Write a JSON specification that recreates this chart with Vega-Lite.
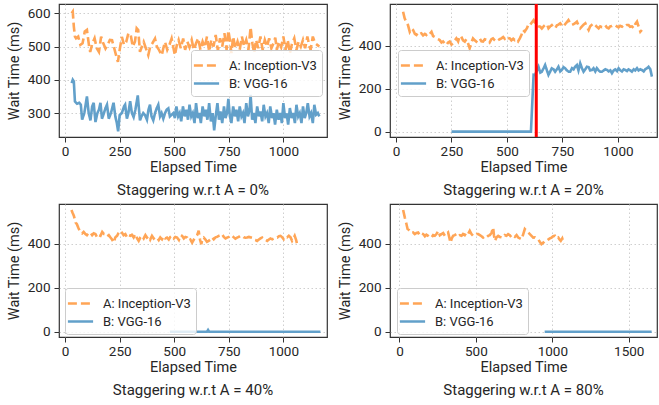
{
  "$schema": "https://vega.github.io/schema/vega-lite/v6.json",
  "autosize": {"type": "pad"},
  "padding": {"left": 5, "top": 1, "right": 4, "bottom": 0},
  "background": "white",
  "datasets": {
    "markers": [{"panel": "p2", "t": 632}],
    "series": [
      {"panel":"p1","s":"A: Inception-V3","t":30,"w":600},{"panel":"p1","s":"A: Inception-V3","t":35,"w":605},{"panel":"p1","s":"A: Inception-V3","t":40,"w":560},{"panel":"p1","s":"A: Inception-V3","t":45,"w":530},{"panel":"p1","s":"A: Inception-V3","t":50,"w":525},{"panel":"p1","s":"A: Inception-V3","t":60,"w":530},{"panel":"p1","s":"A: Inception-V3","t":70,"w":505},{"panel":"p1","s":"A: Inception-V3","t":80,"w":510},{"panel":"p1","s":"A: Inception-V3","t":90,"w":545},{"panel":"p1","s":"A: Inception-V3","t":100,"w":550},{"panel":"p1","s":"A: Inception-V3","t":110,"w":500},{"panel":"p1","s":"A: Inception-V3","t":115,"w":484},{"panel":"p1","s":"A: Inception-V3","t":125,"w":510},{"panel":"p1","s":"A: Inception-V3","t":135,"w":525},{"panel":"p1","s":"A: Inception-V3","t":145,"w":495},{"panel":"p1","s":"A: Inception-V3","t":155,"w":484},{"panel":"p1","s":"A: Inception-V3","t":165,"w":530},{"panel":"p1","s":"A: Inception-V3","t":175,"w":510},{"panel":"p1","s":"A: Inception-V3","t":185,"w":494},{"panel":"p1","s":"A: Inception-V3","t":195,"w":505},{"panel":"p1","s":"A: Inception-V3","t":205,"w":520},{"panel":"p1","s":"A: Inception-V3","t":215,"w":519},{"panel":"p1","s":"A: Inception-V3","t":225,"w":495},{"panel":"p1","s":"A: Inception-V3","t":235,"w":470},{"panel":"p1","s":"A: Inception-V3","t":242,"w":454},{"panel":"p1","s":"A: Inception-V3","t":250,"w":490},{"panel":"p1","s":"A: Inception-V3","t":260,"w":529},{"panel":"p1","s":"A: Inception-V3","t":270,"w":505},{"panel":"p1","s":"A: Inception-V3","t":280,"w":514},{"panel":"p1","s":"A: Inception-V3","t":290,"w":540},{"panel":"p1","s":"A: Inception-V3","t":300,"w":537},{"panel":"p1","s":"A: Inception-V3","t":310,"w":500},{"panel":"p1","s":"A: Inception-V3","t":320,"w":515},{"panel":"p1","s":"A: Inception-V3","t":328,"w":555},{"panel":"p1","s":"A: Inception-V3","t":335,"w":550},{"panel":"p1","s":"A: Inception-V3","t":343,"w":484},{"panel":"p1","s":"A: Inception-V3","t":352,"w":500},{"panel":"p1","s":"A: Inception-V3","t":360,"w":514},{"panel":"p1","s":"A: Inception-V3","t":370,"w":495},{"panel":"p1","s":"A: Inception-V3","t":381,"w":474},{"panel":"p1","s":"A: Inception-V3","t":390,"w":500},{"panel":"p1","s":"A: Inception-V3","t":400,"w":510},{"panel":"p1","s":"A: Inception-V3","t":412,"w":524},{"panel":"p1","s":"A: Inception-V3","t":420,"w":500},{"panel":"p1","s":"A: Inception-V3","t":430,"w":490},{"panel":"p1","s":"A: Inception-V3","t":443,"w":474},{"panel":"p1","s":"A: Inception-V3","t":450,"w":495},{"panel":"p1","s":"A: Inception-V3","t":458,"w":514},{"panel":"p1","s":"A: Inception-V3","t":468,"w":490},{"panel":"p1","s":"A: Inception-V3","t":478,"w":505},{"panel":"p1","s":"A: Inception-V3","t":488,"w":524},{"panel":"p1","s":"A: Inception-V3","t":495,"w":500},{"panel":"p1","s":"A: Inception-V3","t":503,"w":474},{"panel":"p1","s":"A: Inception-V3","t":512,"w":505},{"panel":"p1","s":"A: Inception-V3","t":520,"w":520},{"panel":"p1","s":"A: Inception-V3","t":530,"w":495},{"panel":"p1","s":"A: Inception-V3","t":541,"w":524},{"panel":"p1","s":"A: Inception-V3","t":550,"w":490},{"panel":"p1","s":"A: Inception-V3","t":560,"w":515},{"panel":"p1","s":"A: Inception-V3","t":570,"w":498},{"panel":"p1","s":"A: Inception-V3","t":580,"w":520},{"panel":"p1","s":"A: Inception-V3","t":590,"w":490},{"panel":"p1","s":"A: Inception-V3","t":600,"w":510},{"panel":"p1","s":"A: Inception-V3","t":610,"w":525},{"panel":"p1","s":"A: Inception-V3","t":620,"w":490},{"panel":"p1","s":"A: Inception-V3","t":630,"w":515},{"panel":"p1","s":"A: Inception-V3","t":640,"w":498},{"panel":"p1","s":"A: Inception-V3","t":650,"w":530},{"panel":"p1","s":"A: Inception-V3","t":660,"w":485},{"panel":"p1","s":"A: Inception-V3","t":670,"w":520},{"panel":"p1","s":"A: Inception-V3","t":680,"w":500},{"panel":"p1","s":"A: Inception-V3","t":690,"w":535},{"panel":"p1","s":"A: Inception-V3","t":700,"w":488},{"panel":"p1","s":"A: Inception-V3","t":710,"w":525},{"panel":"p1","s":"A: Inception-V3","t":720,"w":500},{"panel":"p1","s":"A: Inception-V3","t":730,"w":540},{"panel":"p1","s":"A: Inception-V3","t":740,"w":490},{"panel":"p1","s":"A: Inception-V3","t":748,"w":548},{"panel":"p1","s":"A: Inception-V3","t":755,"w":520},{"panel":"p1","s":"A: Inception-V3","t":762,"w":480},{"panel":"p1","s":"A: Inception-V3","t":770,"w":530},{"panel":"p1","s":"A: Inception-V3","t":780,"w":495},{"panel":"p1","s":"A: Inception-V3","t":790,"w":515},{"panel":"p1","s":"A: Inception-V3","t":800,"w":490},{"panel":"p1","s":"A: Inception-V3","t":810,"w":530},{"panel":"p1","s":"A: Inception-V3","t":820,"w":500},{"panel":"p1","s":"A: Inception-V3","t":830,"w":520},{"panel":"p1","s":"A: Inception-V3","t":840,"w":490},{"panel":"p1","s":"A: Inception-V3","t":850,"w":558},{"panel":"p1","s":"A: Inception-V3","t":858,"w":510},{"panel":"p1","s":"A: Inception-V3","t":866,"w":480},{"panel":"p1","s":"A: Inception-V3","t":875,"w":520},{"panel":"p1","s":"A: Inception-V3","t":885,"w":495},{"panel":"p1","s":"A: Inception-V3","t":895,"w":530},{"panel":"p1","s":"A: Inception-V3","t":905,"w":490},{"panel":"p1","s":"A: Inception-V3","t":915,"w":520},{"panel":"p1","s":"A: Inception-V3","t":925,"w":500},{"panel":"p1","s":"A: Inception-V3","t":935,"w":525},{"panel":"p1","s":"A: Inception-V3","t":945,"w":495},{"panel":"p1","s":"A: Inception-V3","t":955,"w":510},{"panel":"p1","s":"A: Inception-V3","t":963,"w":527},{"panel":"p1","s":"A: Inception-V3","t":970,"w":490},{"panel":"p1","s":"A: Inception-V3","t":980,"w":515},{"panel":"p1","s":"A: Inception-V3","t":990,"w":498},{"panel":"p1","s":"A: Inception-V3","t":1000,"w":530},{"panel":"p1","s":"A: Inception-V3","t":1010,"w":490},{"panel":"p1","s":"A: Inception-V3","t":1020,"w":520},{"panel":"p1","s":"A: Inception-V3","t":1030,"w":480},{"panel":"p1","s":"A: Inception-V3","t":1040,"w":510},{"panel":"p1","s":"A: Inception-V3","t":1050,"w":525},{"panel":"p1","s":"A: Inception-V3","t":1060,"w":490},{"panel":"p1","s":"A: Inception-V3","t":1070,"w":515},{"panel":"p1","s":"A: Inception-V3","t":1080,"w":500},{"panel":"p1","s":"A: Inception-V3","t":1090,"w":520},{"panel":"p1","s":"A: Inception-V3","t":1100,"w":495},{"panel":"p1","s":"A: Inception-V3","t":1110,"w":530},{"panel":"p1","s":"A: Inception-V3","t":1118,"w":505},{"panel":"p1","s":"A: Inception-V3","t":1125,"w":490},{"panel":"p1","s":"A: Inception-V3","t":1135,"w":530},{"panel":"p1","s":"A: Inception-V3","t":1145,"w":510},{"panel":"p1","s":"A: Inception-V3","t":1155,"w":505},{"panel":"p1","s":"A: Inception-V3","t":1165,"w":500},
      {"panel":"p1","s":"B: VGG-16","t":30,"w":390},{"panel":"p1","s":"B: VGG-16","t":35,"w":400},{"panel":"p1","s":"B: VGG-16","t":40,"w":395},{"panel":"p1","s":"B: VGG-16","t":45,"w":335},{"panel":"p1","s":"B: VGG-16","t":55,"w":328},{"panel":"p1","s":"B: VGG-16","t":65,"w":331},{"panel":"p1","s":"B: VGG-16","t":72,"w":325},{"panel":"p1","s":"B: VGG-16","t":78,"w":280},{"panel":"p1","s":"B: VGG-16","t":88,"w":300},{"panel":"p1","s":"B: VGG-16","t":100,"w":350},{"panel":"p1","s":"B: VGG-16","t":108,"w":300},{"panel":"p1","s":"B: VGG-16","t":116,"w":278},{"panel":"p1","s":"B: VGG-16","t":124,"w":320},{"panel":"p1","s":"B: VGG-16","t":131,"w":331},{"panel":"p1","s":"B: VGG-16","t":139,"w":273},{"panel":"p1","s":"B: VGG-16","t":148,"w":300},{"panel":"p1","s":"B: VGG-16","t":155,"w":310},{"panel":"p1","s":"B: VGG-16","t":162,"w":331},{"panel":"p1","s":"B: VGG-16","t":169,"w":283},{"panel":"p1","s":"B: VGG-16","t":178,"w":300},{"panel":"p1","s":"B: VGG-16","t":185,"w":315},{"panel":"p1","s":"B: VGG-16","t":192,"w":325},{"panel":"p1","s":"B: VGG-16","t":200,"w":283},{"panel":"p1","s":"B: VGG-16","t":210,"w":300},{"panel":"p1","s":"B: VGG-16","t":222,"w":331},{"panel":"p1","s":"B: VGG-16","t":230,"w":290},{"panel":"p1","s":"B: VGG-16","t":237,"w":270},{"panel":"p1","s":"B: VGG-16","t":243,"w":245},{"panel":"p1","s":"B: VGG-16","t":250,"w":294},{"panel":"p1","s":"B: VGG-16","t":260,"w":300},{"panel":"p1","s":"B: VGG-16","t":270,"w":320},{"panel":"p1","s":"B: VGG-16","t":275,"w":325},{"panel":"p1","s":"B: VGG-16","t":283,"w":283},{"panel":"p1","s":"B: VGG-16","t":290,"w":300},{"panel":"p1","s":"B: VGG-16","t":298,"w":336},{"panel":"p1","s":"B: VGG-16","t":306,"w":300},{"panel":"p1","s":"B: VGG-16","t":314,"w":288},{"panel":"p1","s":"B: VGG-16","t":322,"w":310},{"panel":"p1","s":"B: VGG-16","t":333,"w":353},{"panel":"p1","s":"B: VGG-16","t":343,"w":278},{"panel":"p1","s":"B: VGG-16","t":350,"w":290},{"panel":"p1","s":"B: VGG-16","t":358,"w":300},{"panel":"p1","s":"B: VGG-16","t":366,"w":294},{"panel":"p1","s":"B: VGG-16","t":375,"w":280},{"panel":"p1","s":"B: VGG-16","t":382,"w":310},{"panel":"p1","s":"B: VGG-16","t":389,"w":325},{"panel":"p1","s":"B: VGG-16","t":396,"w":290},{"panel":"p1","s":"B: VGG-16","t":404,"w":278},{"panel":"p1","s":"B: VGG-16","t":412,"w":300},{"panel":"p1","s":"B: VGG-16","t":420,"w":315},{"panel":"p1","s":"B: VGG-16","t":427,"w":325},{"panel":"p1","s":"B: VGG-16","t":435,"w":290},{"panel":"p1","s":"B: VGG-16","t":442,"w":300},{"panel":"p1","s":"B: VGG-16","t":450,"w":283},{"panel":"p1","s":"B: VGG-16","t":458,"w":300},{"panel":"p1","s":"B: VGG-16","t":465,"w":310},{"panel":"p1","s":"B: VGG-16","t":473,"w":314},{"panel":"p1","s":"B: VGG-16","t":480,"w":290},{"panel":"p1","s":"B: VGG-16","t":488,"w":295},{"panel":"p1","s":"B: VGG-16","t":496,"w":300},{"panel":"p1","s":"B: VGG-16","t":503,"w":285},{"panel":"p1","s":"B: VGG-16","t":510,"w":320},{"panel":"p1","s":"B: VGG-16","t":518,"w":290},{"panel":"p1","s":"B: VGG-16","t":525,"w":300},{"panel":"p1","s":"B: VGG-16","t":532,"w":275},{"panel":"p1","s":"B: VGG-16","t":540,"w":320},{"panel":"p1","s":"B: VGG-16","t":548,"w":290},{"panel":"p1","s":"B: VGG-16","t":556,"w":310},{"panel":"p1","s":"B: VGG-16","t":563,"w":280},{"panel":"p1","s":"B: VGG-16","t":570,"w":325},{"panel":"p1","s":"B: VGG-16","t":578,"w":290},{"panel":"p1","s":"B: VGG-16","t":585,"w":300},{"panel":"p1","s":"B: VGG-16","t":593,"w":270},{"panel":"p1","s":"B: VGG-16","t":600,"w":330},{"panel":"p1","s":"B: VGG-16","t":608,"w":285},{"panel":"p1","s":"B: VGG-16","t":615,"w":300},{"panel":"p1","s":"B: VGG-16","t":622,"w":270},{"panel":"p1","s":"B: VGG-16","t":630,"w":320},{"panel":"p1","s":"B: VGG-16","t":638,"w":290},{"panel":"p1","s":"B: VGG-16","t":645,"w":310},{"panel":"p1","s":"B: VGG-16","t":652,"w":280},{"panel":"p1","s":"B: VGG-16","t":660,"w":330},{"panel":"p1","s":"B: VGG-16","t":668,"w":275},{"panel":"p1","s":"B: VGG-16","t":676,"w":300},{"panel":"p1","s":"B: VGG-16","t":683,"w":248},{"panel":"p1","s":"B: VGG-16","t":690,"w":290},{"panel":"p1","s":"B: VGG-16","t":698,"w":330},{"panel":"p1","s":"B: VGG-16","t":705,"w":280},{"panel":"p1","s":"B: VGG-16","t":712,"w":305},{"panel":"p1","s":"B: VGG-16","t":720,"w":270},{"panel":"p1","s":"B: VGG-16","t":728,"w":320},{"panel":"p1","s":"B: VGG-16","t":735,"w":285},{"panel":"p1","s":"B: VGG-16","t":742,"w":300},{"panel":"p1","s":"B: VGG-16","t":748,"w":343},{"panel":"p1","s":"B: VGG-16","t":755,"w":290},{"panel":"p1","s":"B: VGG-16","t":762,"w":270},{"panel":"p1","s":"B: VGG-16","t":770,"w":320},{"panel":"p1","s":"B: VGG-16","t":778,"w":290},{"panel":"p1","s":"B: VGG-16","t":785,"w":310},{"panel":"p1","s":"B: VGG-16","t":793,"w":275},{"panel":"p1","s":"B: VGG-16","t":800,"w":320},{"panel":"p1","s":"B: VGG-16","t":808,"w":290},{"panel":"p1","s":"B: VGG-16","t":815,"w":300},{"panel":"p1","s":"B: VGG-16","t":822,"w":270},{"panel":"p1","s":"B: VGG-16","t":830,"w":330},{"panel":"p1","s":"B: VGG-16","t":838,"w":290},{"panel":"p1","s":"B: VGG-16","t":845,"w":310},{"panel":"p1","s":"B: VGG-16","t":850,"w":355},{"panel":"p1","s":"B: VGG-16","t":857,"w":280},{"panel":"p1","s":"B: VGG-16","t":864,"w":300},{"panel":"p1","s":"B: VGG-16","t":872,"w":270},{"panel":"p1","s":"B: VGG-16","t":880,"w":320},{"panel":"p1","s":"B: VGG-16","t":888,"w":290},{"panel":"p1","s":"B: VGG-16","t":895,"w":305},{"panel":"p1","s":"B: VGG-16","t":903,"w":275},{"panel":"p1","s":"B: VGG-16","t":910,"w":325},{"panel":"p1","s":"B: VGG-16","t":918,"w":290},{"panel":"p1","s":"B: VGG-16","t":925,"w":300},{"panel":"p1","s":"B: VGG-16","t":933,"w":270},{"panel":"p1","s":"B: VGG-16","t":940,"w":320},{"panel":"p1","s":"B: VGG-16","t":948,"w":285},{"panel":"p1","s":"B: VGG-16","t":955,"w":300},{"panel":"p1","s":"B: VGG-16","t":962,"w":265},{"panel":"p1","s":"B: VGG-16","t":970,"w":310},{"panel":"p1","s":"B: VGG-16","t":978,"w":280},{"panel":"p1","s":"B: VGG-16","t":986,"w":300},{"panel":"p1","s":"B: VGG-16","t":993,"w":270},{"panel":"p1","s":"B: VGG-16","t":1000,"w":330},{"panel":"p1","s":"B: VGG-16","t":1008,"w":285},{"panel":"p1","s":"B: VGG-16","t":1015,"w":300},{"panel":"p1","s":"B: VGG-16","t":1022,"w":265},{"panel":"p1","s":"B: VGG-16","t":1030,"w":315},{"panel":"p1","s":"B: VGG-16","t":1038,"w":285},{"panel":"p1","s":"B: VGG-16","t":1045,"w":300},{"panel":"p1","s":"B: VGG-16","t":1053,"w":270},{"panel":"p1","s":"B: VGG-16","t":1060,"w":325},{"panel":"p1","s":"B: VGG-16","t":1068,"w":290},{"panel":"p1","s":"B: VGG-16","t":1075,"w":300},{"panel":"p1","s":"B: VGG-16","t":1083,"w":270},{"panel":"p1","s":"B: VGG-16","t":1090,"w":320},{"panel":"p1","s":"B: VGG-16","t":1098,"w":285},{"panel":"p1","s":"B: VGG-16","t":1105,"w":300},{"panel":"p1","s":"B: VGG-16","t":1112,"w":330},{"panel":"p1","s":"B: VGG-16","t":1120,"w":290},{"panel":"p1","s":"B: VGG-16","t":1127,"w":300},{"panel":"p1","s":"B: VGG-16","t":1135,"w":270},{"panel":"p1","s":"B: VGG-16","t":1142,"w":325},{"panel":"p1","s":"B: VGG-16","t":1150,"w":295},{"panel":"p1","s":"B: VGG-16","t":1158,"w":300},{"panel":"p1","s":"B: VGG-16","t":1165,"w":290},
      {"panel":"p2","s":"A: Inception-V3","t":32,"w":558},{"panel":"p2","s":"A: Inception-V3","t":39,"w":527},{"panel":"p2","s":"A: Inception-V3","t":47,"w":510},{"panel":"p2","s":"A: Inception-V3","t":54,"w":496},{"panel":"p2","s":"A: Inception-V3","t":62,"w":465},{"panel":"p2","s":"A: Inception-V3","t":70,"w":480},{"panel":"p2","s":"A: Inception-V3","t":77,"w":473},{"panel":"p2","s":"A: Inception-V3","t":85,"w":455},{"panel":"p2","s":"A: Inception-V3","t":92,"w":450},{"panel":"p2","s":"A: Inception-V3","t":100,"w":462},{"panel":"p2","s":"A: Inception-V3","t":107,"w":455},{"panel":"p2","s":"A: Inception-V3","t":114,"w":458},{"panel":"p2","s":"A: Inception-V3","t":122,"w":448},{"panel":"p2","s":"A: Inception-V3","t":130,"w":455},{"panel":"p2","s":"A: Inception-V3","t":137,"w":450},{"panel":"p2","s":"A: Inception-V3","t":145,"w":460},{"panel":"p2","s":"A: Inception-V3","t":152,"w":455},{"panel":"p2","s":"A: Inception-V3","t":160,"w":465},{"panel":"p2","s":"A: Inception-V3","t":167,"w":445},{"panel":"p2","s":"A: Inception-V3","t":175,"w":440},{"panel":"p2","s":"A: Inception-V3","t":182,"w":434},{"panel":"p2","s":"A: Inception-V3","t":190,"w":430},{"panel":"p2","s":"A: Inception-V3","t":197,"w":426},{"panel":"p2","s":"A: Inception-V3","t":205,"w":415},{"panel":"p2","s":"A: Inception-V3","t":212,"w":420},{"panel":"p2","s":"A: Inception-V3","t":220,"w":410},{"panel":"p2","s":"A: Inception-V3","t":227,"w":403},{"panel":"p2","s":"A: Inception-V3","t":235,"w":415},{"panel":"p2","s":"A: Inception-V3","t":242,"w":419},{"panel":"p2","s":"A: Inception-V3","t":250,"w":405},{"panel":"p2","s":"A: Inception-V3","t":257,"w":411},{"panel":"p2","s":"A: Inception-V3","t":265,"w":425},{"panel":"p2","s":"A: Inception-V3","t":272,"w":434},{"panel":"p2","s":"A: Inception-V3","t":280,"w":420},{"panel":"p2","s":"A: Inception-V3","t":287,"w":445},{"panel":"p2","s":"A: Inception-V3","t":294,"w":442},{"panel":"p2","s":"A: Inception-V3","t":302,"w":425},{"panel":"p2","s":"A: Inception-V3","t":310,"w":419},{"panel":"p2","s":"A: Inception-V3","t":317,"w":430},{"panel":"p2","s":"A: Inception-V3","t":325,"w":410},{"panel":"p2","s":"A: Inception-V3","t":332,"w":388},{"panel":"p2","s":"A: Inception-V3","t":340,"w":415},{"panel":"p2","s":"A: Inception-V3","t":347,"w":434},{"panel":"p2","s":"A: Inception-V3","t":355,"w":425},{"panel":"p2","s":"A: Inception-V3","t":362,"w":419},{"panel":"p2","s":"A: Inception-V3","t":370,"w":428},{"panel":"p2","s":"A: Inception-V3","t":377,"w":434},{"panel":"p2","s":"A: Inception-V3","t":385,"w":420},{"panel":"p2","s":"A: Inception-V3","t":392,"w":419},{"panel":"p2","s":"A: Inception-V3","t":400,"w":430},{"panel":"p2","s":"A: Inception-V3","t":407,"w":428},{"panel":"p2","s":"A: Inception-V3","t":414,"w":426},{"panel":"p2","s":"A: Inception-V3","t":422,"w":415},{"panel":"p2","s":"A: Inception-V3","t":430,"w":430},{"panel":"p2","s":"A: Inception-V3","t":437,"w":434},{"panel":"p2","s":"A: Inception-V3","t":445,"w":425},{"panel":"p2","s":"A: Inception-V3","t":452,"w":419},{"panel":"p2","s":"A: Inception-V3","t":460,"w":425},{"panel":"p2","s":"A: Inception-V3","t":467,"w":430},{"panel":"p2","s":"A: Inception-V3","t":475,"w":434},{"panel":"p2","s":"A: Inception-V3","t":483,"w":440},{"panel":"p2","s":"A: Inception-V3","t":490,"w":432},{"panel":"p2","s":"A: Inception-V3","t":498,"w":442},{"panel":"p2","s":"A: Inception-V3","t":505,"w":436},{"panel":"p2","s":"A: Inception-V3","t":513,"w":434},{"panel":"p2","s":"A: Inception-V3","t":520,"w":425},{"panel":"p2","s":"A: Inception-V3","t":528,"w":432},{"panel":"p2","s":"A: Inception-V3","t":535,"w":426},{"panel":"p2","s":"A: Inception-V3","t":543,"w":430},{"panel":"p2","s":"A: Inception-V3","t":550,"w":420},{"panel":"p2","s":"A: Inception-V3","t":558,"w":434},{"panel":"p2","s":"A: Inception-V3","t":565,"w":450},{"panel":"p2","s":"A: Inception-V3","t":573,"w":473},{"panel":"p2","s":"A: Inception-V3","t":580,"w":465},{"panel":"p2","s":"A: Inception-V3","t":590,"w":481},{"panel":"p2","s":"A: Inception-V3","t":597,"w":500},{"panel":"p2","s":"A: Inception-V3","t":604,"w":496},{"panel":"p2","s":"A: Inception-V3","t":612,"w":508},{"panel":"p2","s":"A: Inception-V3","t":620,"w":519},{"panel":"p2","s":"A: Inception-V3","t":627,"w":505},{"panel":"p2","s":"A: Inception-V3","t":635,"w":496},{"panel":"p2","s":"A: Inception-V3","t":642,"w":490},{"panel":"p2","s":"A: Inception-V3","t":650,"w":488},{"panel":"p2","s":"A: Inception-V3","t":657,"w":480},{"panel":"p2","s":"A: Inception-V3","t":665,"w":490},{"panel":"p2","s":"A: Inception-V3","t":672,"w":496},{"panel":"p2","s":"A: Inception-V3","t":680,"w":500},{"panel":"p2","s":"A: Inception-V3","t":687,"w":481},{"panel":"p2","s":"A: Inception-V3","t":695,"w":490},{"panel":"p2","s":"A: Inception-V3","t":702,"w":496},{"panel":"p2","s":"A: Inception-V3","t":710,"w":485},{"panel":"p2","s":"A: Inception-V3","t":717,"w":481},{"panel":"p2","s":"A: Inception-V3","t":725,"w":495},{"panel":"p2","s":"A: Inception-V3","t":732,"w":498},{"panel":"p2","s":"A: Inception-V3","t":740,"w":504},{"panel":"p2","s":"A: Inception-V3","t":747,"w":495},{"panel":"p2","s":"A: Inception-V3","t":755,"w":488},{"panel":"p2","s":"A: Inception-V3","t":762,"w":500},{"panel":"p2","s":"A: Inception-V3","t":770,"w":510},{"panel":"p2","s":"A: Inception-V3","t":777,"w":519},{"panel":"p2","s":"A: Inception-V3","t":785,"w":505},{"panel":"p2","s":"A: Inception-V3","t":792,"w":496},{"panel":"p2","s":"A: Inception-V3","t":800,"w":500},{"panel":"p2","s":"A: Inception-V3","t":807,"w":505},{"panel":"p2","s":"A: Inception-V3","t":815,"w":512},{"panel":"p2","s":"A: Inception-V3","t":822,"w":495},{"panel":"p2","s":"A: Inception-V3","t":830,"w":481},{"panel":"p2","s":"A: Inception-V3","t":838,"w":490},{"panel":"p2","s":"A: Inception-V3","t":845,"w":498},{"panel":"p2","s":"A: Inception-V3","t":853,"w":504},{"panel":"p2","s":"A: Inception-V3","t":860,"w":488},{"panel":"p2","s":"A: Inception-V3","t":868,"w":473},{"panel":"p2","s":"A: Inception-V3","t":875,"w":490},{"panel":"p2","s":"A: Inception-V3","t":883,"w":498},{"panel":"p2","s":"A: Inception-V3","t":890,"w":504},{"panel":"p2","s":"A: Inception-V3","t":898,"w":495},{"panel":"p2","s":"A: Inception-V3","t":905,"w":488},{"panel":"p2","s":"A: Inception-V3","t":913,"w":481},{"panel":"p2","s":"A: Inception-V3","t":920,"w":490},{"panel":"p2","s":"A: Inception-V3","t":928,"w":486},{"panel":"p2","s":"A: Inception-V3","t":936,"w":488},{"panel":"p2","s":"A: Inception-V3","t":943,"w":495},{"panel":"p2","s":"A: Inception-V3","t":950,"w":485},{"panel":"p2","s":"A: Inception-V3","t":958,"w":481},{"panel":"p2","s":"A: Inception-V3","t":965,"w":490},{"panel":"p2","s":"A: Inception-V3","t":973,"w":492},{"panel":"p2","s":"A: Inception-V3","t":980,"w":496},{"panel":"p2","s":"A: Inception-V3","t":988,"w":496},{"panel":"p2","s":"A: Inception-V3","t":995,"w":490},{"panel":"p2","s":"A: Inception-V3","t":1003,"w":485},{"panel":"p2","s":"A: Inception-V3","t":1010,"w":492},{"panel":"p2","s":"A: Inception-V3","t":1018,"w":488},{"panel":"p2","s":"A: Inception-V3","t":1025,"w":495},{"panel":"p2","s":"A: Inception-V3","t":1033,"w":490},{"panel":"p2","s":"A: Inception-V3","t":1040,"w":496},{"panel":"p2","s":"A: Inception-V3","t":1048,"w":496},{"panel":"p2","s":"A: Inception-V3","t":1055,"w":488},{"panel":"p2","s":"A: Inception-V3","t":1063,"w":490},{"panel":"p2","s":"A: Inception-V3","t":1071,"w":481},{"panel":"p2","s":"A: Inception-V3","t":1078,"w":500},{"panel":"p2","s":"A: Inception-V3","t":1086,"w":512},{"panel":"p2","s":"A: Inception-V3","t":1093,"w":490},{"panel":"p2","s":"A: Inception-V3","t":1101,"w":465},{"panel":"p2","s":"A: Inception-V3","t":1108,"w":473},
      {"panel":"p2","s":"B: VGG-16","t":250,"w":0},{"panel":"p2","s":"B: VGG-16","t":400,"w":0},{"panel":"p2","s":"B: VGG-16","t":500,"w":0},{"panel":"p2","s":"B: VGG-16","t":608,"w":0},{"panel":"p2","s":"B: VGG-16","t":620,"w":265},{"panel":"p2","s":"B: VGG-16","t":627,"w":264},{"panel":"p2","s":"B: VGG-16","t":635,"w":285},{"panel":"p2","s":"B: VGG-16","t":642,"w":302},{"panel":"p2","s":"B: VGG-16","t":650,"w":275},{"panel":"p2","s":"B: VGG-16","t":657,"w":279},{"panel":"p2","s":"B: VGG-16","t":665,"w":295},{"panel":"p2","s":"B: VGG-16","t":672,"w":310},{"panel":"p2","s":"B: VGG-16","t":680,"w":285},{"panel":"p2","s":"B: VGG-16","t":687,"w":264},{"panel":"p2","s":"B: VGG-16","t":695,"w":280},{"panel":"p2","s":"B: VGG-16","t":702,"w":295},{"panel":"p2","s":"B: VGG-16","t":710,"w":290},{"panel":"p2","s":"B: VGG-16","t":717,"w":279},{"panel":"p2","s":"B: VGG-16","t":725,"w":290},{"panel":"p2","s":"B: VGG-16","t":732,"w":302},{"panel":"p2","s":"B: VGG-16","t":740,"w":280},{"panel":"p2","s":"B: VGG-16","t":747,"w":287},{"panel":"p2","s":"B: VGG-16","t":755,"w":300},{"panel":"p2","s":"B: VGG-16","t":762,"w":295},{"panel":"p2","s":"B: VGG-16","t":770,"w":285},{"panel":"p2","s":"B: VGG-16","t":778,"w":279},{"panel":"p2","s":"B: VGG-16","t":785,"w":279},{"panel":"p2","s":"B: VGG-16","t":793,"w":295},{"panel":"p2","s":"B: VGG-16","t":800,"w":290},{"panel":"p2","s":"B: VGG-16","t":807,"w":302},{"panel":"p2","s":"B: VGG-16","t":815,"w":310},{"panel":"p2","s":"B: VGG-16","t":822,"w":285},{"panel":"p2","s":"B: VGG-16","t":830,"w":318},{"panel":"p2","s":"B: VGG-16","t":838,"w":295},{"panel":"p2","s":"B: VGG-16","t":845,"w":279},{"panel":"p2","s":"B: VGG-16","t":853,"w":290},{"panel":"p2","s":"B: VGG-16","t":860,"w":302},{"panel":"p2","s":"B: VGG-16","t":868,"w":300},{"panel":"p2","s":"B: VGG-16","t":875,"w":285},{"panel":"p2","s":"B: VGG-16","t":883,"w":287},{"panel":"p2","s":"B: VGG-16","t":890,"w":295},{"panel":"p2","s":"B: VGG-16","t":898,"w":280},{"panel":"p2","s":"B: VGG-16","t":905,"w":295},{"panel":"p2","s":"B: VGG-16","t":913,"w":285},{"panel":"p2","s":"B: VGG-16","t":920,"w":279},{"panel":"p2","s":"B: VGG-16","t":928,"w":279},{"panel":"p2","s":"B: VGG-16","t":936,"w":285},{"panel":"p2","s":"B: VGG-16","t":943,"w":290},{"panel":"p2","s":"B: VGG-16","t":951,"w":287},{"panel":"p2","s":"B: VGG-16","t":958,"w":280},{"panel":"p2","s":"B: VGG-16","t":966,"w":285},{"panel":"p2","s":"B: VGG-16","t":973,"w":272},{"panel":"p2","s":"B: VGG-16","t":981,"w":285},{"panel":"p2","s":"B: VGG-16","t":988,"w":290},{"panel":"p2","s":"B: VGG-16","t":996,"w":282},{"panel":"p2","s":"B: VGG-16","t":1003,"w":295},{"panel":"p2","s":"B: VGG-16","t":1011,"w":285},{"panel":"p2","s":"B: VGG-16","t":1018,"w":280},{"panel":"p2","s":"B: VGG-16","t":1026,"w":290},{"panel":"p2","s":"B: VGG-16","t":1033,"w":287},{"panel":"p2","s":"B: VGG-16","t":1041,"w":282},{"panel":"p2","s":"B: VGG-16","t":1048,"w":290},{"panel":"p2","s":"B: VGG-16","t":1056,"w":285},{"panel":"p2","s":"B: VGG-16","t":1063,"w":279},{"panel":"p2","s":"B: VGG-16","t":1071,"w":290},{"panel":"p2","s":"B: VGG-16","t":1078,"w":285},{"panel":"p2","s":"B: VGG-16","t":1086,"w":295},{"panel":"p2","s":"B: VGG-16","t":1093,"w":285},{"panel":"p2","s":"B: VGG-16","t":1101,"w":290},{"panel":"p2","s":"B: VGG-16","t":1108,"w":287},{"panel":"p2","s":"B: VGG-16","t":1116,"w":280},{"panel":"p2","s":"B: VGG-16","t":1123,"w":290},{"panel":"p2","s":"B: VGG-16","t":1131,"w":295},{"panel":"p2","s":"B: VGG-16","t":1138,"w":302},{"panel":"p2","s":"B: VGG-16","t":1146,"w":290},{"panel":"p2","s":"B: VGG-16","t":1153,"w":256},
      {"panel":"p3","s":"A: Inception-V3","t":29,"w":555},{"panel":"p3","s":"A: Inception-V3","t":35,"w":540},{"panel":"p3","s":"A: Inception-V3","t":40,"w":529},{"panel":"p3","s":"A: Inception-V3","t":48,"w":498},{"panel":"p3","s":"A: Inception-V3","t":54,"w":490},{"panel":"p3","s":"A: Inception-V3","t":60,"w":475},{"panel":"p3","s":"A: Inception-V3","t":70,"w":452},{"panel":"p3","s":"A: Inception-V3","t":78,"w":448},{"panel":"p3","s":"A: Inception-V3","t":85,"w":455},{"panel":"p3","s":"A: Inception-V3","t":93,"w":445},{"panel":"p3","s":"A: Inception-V3","t":100,"w":440},{"panel":"p3","s":"A: Inception-V3","t":108,"w":450},{"panel":"p3","s":"A: Inception-V3","t":116,"w":452},{"panel":"p3","s":"A: Inception-V3","t":124,"w":440},{"panel":"p3","s":"A: Inception-V3","t":131,"w":448},{"panel":"p3","s":"A: Inception-V3","t":139,"w":445},{"panel":"p3","s":"A: Inception-V3","t":147,"w":430},{"panel":"p3","s":"A: Inception-V3","t":155,"w":440},{"panel":"p3","s":"A: Inception-V3","t":162,"w":437},{"panel":"p3","s":"A: Inception-V3","t":170,"w":455},{"panel":"p3","s":"A: Inception-V3","t":178,"w":445},{"panel":"p3","s":"A: Inception-V3","t":185,"w":445},{"panel":"p3","s":"A: Inception-V3","t":193,"w":435},{"panel":"p3","s":"A: Inception-V3","t":200,"w":440},{"panel":"p3","s":"A: Inception-V3","t":208,"w":429},{"panel":"p3","s":"A: Inception-V3","t":215,"w":420},{"panel":"p3","s":"A: Inception-V3","t":223,"w":406},{"panel":"p3","s":"A: Inception-V3","t":230,"w":430},{"panel":"p3","s":"A: Inception-V3","t":238,"w":437},{"panel":"p3","s":"A: Inception-V3","t":245,"w":450},{"panel":"p3","s":"A: Inception-V3","t":253,"w":460},{"panel":"p3","s":"A: Inception-V3","t":260,"w":452},{"panel":"p3","s":"A: Inception-V3","t":268,"w":440},{"panel":"p3","s":"A: Inception-V3","t":276,"w":445},{"panel":"p3","s":"A: Inception-V3","t":284,"w":430},{"panel":"p3","s":"A: Inception-V3","t":291,"w":440},{"panel":"p3","s":"A: Inception-V3","t":299,"w":437},{"panel":"p3","s":"A: Inception-V3","t":306,"w":442},{"panel":"p3","s":"A: Inception-V3","t":314,"w":430},{"panel":"p3","s":"A: Inception-V3","t":322,"w":445},{"panel":"p3","s":"A: Inception-V3","t":330,"w":425},{"panel":"p3","s":"A: Inception-V3","t":337,"w":414},{"panel":"p3","s":"A: Inception-V3","t":345,"w":430},{"panel":"p3","s":"A: Inception-V3","t":352,"w":437},{"panel":"p3","s":"A: Inception-V3","t":360,"w":425},{"panel":"p3","s":"A: Inception-V3","t":368,"w":440},{"panel":"p3","s":"A: Inception-V3","t":375,"w":429},{"panel":"p3","s":"A: Inception-V3","t":383,"w":435},{"panel":"p3","s":"A: Inception-V3","t":390,"w":420},{"panel":"p3","s":"A: Inception-V3","t":398,"w":437},{"panel":"p3","s":"A: Inception-V3","t":406,"w":425},{"panel":"p3","s":"A: Inception-V3","t":414,"w":432},{"panel":"p3","s":"A: Inception-V3","t":421,"w":429},{"panel":"p3","s":"A: Inception-V3","t":429,"w":418},{"panel":"p3","s":"A: Inception-V3","t":436,"w":430},{"panel":"p3","s":"A: Inception-V3","t":444,"w":421},{"panel":"p3","s":"A: Inception-V3","t":452,"w":435},{"panel":"p3","s":"A: Inception-V3","t":459,"w":425},{"panel":"p3","s":"A: Inception-V3","t":467,"w":429},{"panel":"p3","s":"A: Inception-V3","t":475,"w":420},{"panel":"p3","s":"A: Inception-V3","t":482,"w":432},{"panel":"p3","s":"A: Inception-V3","t":490,"w":437},{"panel":"p3","s":"A: Inception-V3","t":498,"w":425},{"panel":"p3","s":"A: Inception-V3","t":505,"w":432},{"panel":"p3","s":"A: Inception-V3","t":513,"w":429},{"panel":"p3","s":"A: Inception-V3","t":521,"w":418},{"panel":"p3","s":"A: Inception-V3","t":528,"w":440},{"panel":"p3","s":"A: Inception-V3","t":536,"w":437},{"panel":"p3","s":"A: Inception-V3","t":544,"w":425},{"panel":"p3","s":"A: Inception-V3","t":551,"w":432},{"panel":"p3","s":"A: Inception-V3","t":559,"w":429},{"panel":"p3","s":"A: Inception-V3","t":567,"w":415},{"panel":"p3","s":"A: Inception-V3","t":574,"w":420},{"panel":"p3","s":"A: Inception-V3","t":582,"w":406},{"panel":"p3","s":"A: Inception-V3","t":590,"w":420},{"panel":"p3","s":"A: Inception-V3","t":597,"w":429},{"panel":"p3","s":"A: Inception-V3","t":605,"w":440},{"panel":"p3","s":"A: Inception-V3","t":612,"w":460},{"panel":"p3","s":"A: Inception-V3","t":618,"w":420},{"panel":"p3","s":"A: Inception-V3","t":624,"w":399},{"panel":"p3","s":"A: Inception-V3","t":630,"w":425},{"panel":"p3","s":"A: Inception-V3","t":635,"w":429},{"panel":"p3","s":"A: Inception-V3","t":643,"w":420},{"panel":"p3","s":"A: Inception-V3","t":650,"w":410},{"panel":"p3","s":"A: Inception-V3","t":658,"w":414},{"panel":"p3","s":"A: Inception-V3","t":666,"w":420},{"panel":"p3","s":"A: Inception-V3","t":673,"w":430},{"panel":"p3","s":"A: Inception-V3","t":681,"w":421},{"panel":"p3","s":"A: Inception-V3","t":689,"w":430},{"panel":"p3","s":"A: Inception-V3","t":696,"w":432},{"panel":"p3","s":"A: Inception-V3","t":704,"w":437},{"panel":"p3","s":"A: Inception-V3","t":712,"w":440},{"panel":"p3","s":"A: Inception-V3","t":719,"w":445},{"panel":"p3","s":"A: Inception-V3","t":727,"w":432},{"panel":"p3","s":"A: Inception-V3","t":735,"w":425},{"panel":"p3","s":"A: Inception-V3","t":742,"w":429},{"panel":"p3","s":"A: Inception-V3","t":750,"w":432},{"panel":"p3","s":"A: Inception-V3","t":758,"w":440},{"panel":"p3","s":"A: Inception-V3","t":765,"w":437},{"panel":"p3","s":"A: Inception-V3","t":773,"w":430},{"panel":"p3","s":"A: Inception-V3","t":780,"w":424},{"panel":"p3","s":"A: Inception-V3","t":788,"w":429},{"panel":"p3","s":"A: Inception-V3","t":796,"w":432},{"panel":"p3","s":"A: Inception-V3","t":803,"w":437},{"panel":"p3","s":"A: Inception-V3","t":811,"w":437},{"panel":"p3","s":"A: Inception-V3","t":819,"w":430},{"panel":"p3","s":"A: Inception-V3","t":826,"w":428},{"panel":"p3","s":"A: Inception-V3","t":834,"w":429},{"panel":"p3","s":"A: Inception-V3","t":842,"w":432},{"panel":"p3","s":"A: Inception-V3","t":849,"w":430},{"panel":"p3","s":"A: Inception-V3","t":857,"w":429},{"panel":"p3","s":"A: Inception-V3","t":865,"w":420},{"panel":"p3","s":"A: Inception-V3","t":872,"w":418},{"panel":"p3","s":"A: Inception-V3","t":880,"w":414},{"panel":"p3","s":"A: Inception-V3","t":888,"w":420},{"panel":"p3","s":"A: Inception-V3","t":895,"w":425},{"panel":"p3","s":"A: Inception-V3","t":903,"w":429},{"panel":"p3","s":"A: Inception-V3","t":911,"w":420},{"panel":"p3","s":"A: Inception-V3","t":918,"w":418},{"panel":"p3","s":"A: Inception-V3","t":926,"w":414},{"panel":"p3","s":"A: Inception-V3","t":934,"w":420},{"panel":"p3","s":"A: Inception-V3","t":941,"w":425},{"panel":"p3","s":"A: Inception-V3","t":949,"w":421},{"panel":"p3","s":"A: Inception-V3","t":957,"w":425},{"panel":"p3","s":"A: Inception-V3","t":964,"w":430},{"panel":"p3","s":"A: Inception-V3","t":972,"w":429},{"panel":"p3","s":"A: Inception-V3","t":980,"w":435},{"panel":"p3","s":"A: Inception-V3","t":987,"w":437},{"panel":"p3","s":"A: Inception-V3","t":995,"w":430},{"panel":"p3","s":"A: Inception-V3","t":1002,"w":421},{"panel":"p3","s":"A: Inception-V3","t":1010,"w":432},{"panel":"p3","s":"A: Inception-V3","t":1017,"w":430},{"panel":"p3","s":"A: Inception-V3","t":1025,"w":437},{"panel":"p3","s":"A: Inception-V3","t":1033,"w":430},{"panel":"p3","s":"A: Inception-V3","t":1040,"w":414},{"panel":"p3","s":"A: Inception-V3","t":1046,"w":425},{"panel":"p3","s":"A: Inception-V3","t":1052,"w":437},{"panel":"p3","s":"A: Inception-V3","t":1058,"w":420},{"panel":"p3","s":"A: Inception-V3","t":1063,"w":400},
      {"panel":"p3","s":"B: VGG-16","t":480,"w":0},{"panel":"p3","s":"B: VGG-16","t":650,"w":0},{"panel":"p3","s":"B: VGG-16","t":655,"w":8},{"panel":"p3","s":"B: VGG-16","t":660,"w":0},{"panel":"p3","s":"B: VGG-16","t":1170,"w":0},
      {"panel":"p4","s":"A: Inception-V3","t":24,"w":555},{"panel":"p4","s":"A: Inception-V3","t":35,"w":520},{"panel":"p4","s":"A: Inception-V3","t":46,"w":490},{"panel":"p4","s":"A: Inception-V3","t":53,"w":468},{"panel":"p4","s":"A: Inception-V3","t":60,"w":465},{"panel":"p4","s":"A: Inception-V3","t":67,"w":460},{"panel":"p4","s":"A: Inception-V3","t":78,"w":450},{"panel":"p4","s":"A: Inception-V3","t":89,"w":452},{"panel":"p4","s":"A: Inception-V3","t":100,"w":445},{"panel":"p4","s":"A: Inception-V3","t":111,"w":450},{"panel":"p4","s":"A: Inception-V3","t":122,"w":452},{"panel":"p4","s":"A: Inception-V3","t":133,"w":440},{"panel":"p4","s":"A: Inception-V3","t":144,"w":448},{"panel":"p4","s":"A: Inception-V3","t":155,"w":445},{"panel":"p4","s":"A: Inception-V3","t":166,"w":435},{"panel":"p4","s":"A: Inception-V3","t":176,"w":442},{"panel":"p4","s":"A: Inception-V3","t":187,"w":437},{"panel":"p4","s":"A: Inception-V3","t":198,"w":430},{"panel":"p4","s":"A: Inception-V3","t":209,"w":429},{"panel":"p4","s":"A: Inception-V3","t":220,"w":440},{"panel":"p4","s":"A: Inception-V3","t":231,"w":437},{"panel":"p4","s":"A: Inception-V3","t":242,"w":445},{"panel":"p4","s":"A: Inception-V3","t":253,"w":460},{"panel":"p4","s":"A: Inception-V3","t":264,"w":440},{"panel":"p4","s":"A: Inception-V3","t":275,"w":445},{"panel":"p4","s":"A: Inception-V3","t":286,"w":450},{"panel":"p4","s":"A: Inception-V3","t":297,"w":437},{"panel":"p4","s":"A: Inception-V3","t":307,"w":445},{"panel":"p4","s":"A: Inception-V3","t":318,"w":452},{"panel":"p4","s":"A: Inception-V3","t":326,"w":430},{"panel":"p4","s":"A: Inception-V3","t":334,"w":406},{"panel":"p4","s":"A: Inception-V3","t":342,"w":425},{"panel":"p4","s":"A: Inception-V3","t":351,"w":437},{"panel":"p4","s":"A: Inception-V3","t":362,"w":440},{"panel":"p4","s":"A: Inception-V3","t":373,"w":445},{"panel":"p4","s":"A: Inception-V3","t":384,"w":435},{"panel":"p4","s":"A: Inception-V3","t":395,"w":440},{"panel":"p4","s":"A: Inception-V3","t":406,"w":437},{"panel":"p4","s":"A: Inception-V3","t":416,"w":445},{"panel":"p4","s":"A: Inception-V3","t":427,"w":440},{"panel":"p4","s":"A: Inception-V3","t":438,"w":452},{"panel":"p4","s":"A: Inception-V3","t":449,"w":445},{"panel":"p4","s":"A: Inception-V3","t":460,"w":460},{"panel":"p4","s":"A: Inception-V3","t":471,"w":445},{"panel":"p4","s":"A: Inception-V3","t":482,"w":437},{"panel":"p4","s":"A: Inception-V3","t":493,"w":440},{"panel":"p4","s":"A: Inception-V3","t":504,"w":445},{"panel":"p4","s":"A: Inception-V3","t":515,"w":445},{"panel":"p4","s":"A: Inception-V3","t":526,"w":440},{"panel":"p4","s":"A: Inception-V3","t":537,"w":435},{"panel":"p4","s":"A: Inception-V3","t":547,"w":429},{"panel":"p4","s":"A: Inception-V3","t":558,"w":435},{"panel":"p4","s":"A: Inception-V3","t":569,"w":430},{"panel":"p4","s":"A: Inception-V3","t":580,"w":437},{"panel":"p4","s":"A: Inception-V3","t":591,"w":440},{"panel":"p4","s":"A: Inception-V3","t":602,"w":450},{"panel":"p4","s":"A: Inception-V3","t":613,"w":475},{"panel":"p4","s":"A: Inception-V3","t":618,"w":440},{"panel":"p4","s":"A: Inception-V3","t":624,"w":414},{"panel":"p4","s":"A: Inception-V3","t":635,"w":430},{"panel":"p4","s":"A: Inception-V3","t":646,"w":437},{"panel":"p4","s":"A: Inception-V3","t":657,"w":432},{"panel":"p4","s":"A: Inception-V3","t":668,"w":430},{"panel":"p4","s":"A: Inception-V3","t":678,"w":429},{"panel":"p4","s":"A: Inception-V3","t":689,"w":440},{"panel":"p4","s":"A: Inception-V3","t":700,"w":437},{"panel":"p4","s":"A: Inception-V3","t":711,"w":445},{"panel":"p4","s":"A: Inception-V3","t":722,"w":440},{"panel":"p4","s":"A: Inception-V3","t":733,"w":430},{"panel":"p4","s":"A: Inception-V3","t":744,"w":437},{"panel":"p4","s":"A: Inception-V3","t":755,"w":432},{"panel":"p4","s":"A: Inception-V3","t":766,"w":440},{"panel":"p4","s":"A: Inception-V3","t":777,"w":429},{"panel":"p4","s":"A: Inception-V3","t":788,"w":425},{"panel":"p4","s":"A: Inception-V3","t":799,"w":421},{"panel":"p4","s":"A: Inception-V3","t":810,"w":445},{"panel":"p4","s":"A: Inception-V3","t":820,"w":468},{"panel":"p4","s":"A: Inception-V3","t":831,"w":460},{"panel":"p4","s":"A: Inception-V3","t":842,"w":452},{"panel":"p4","s":"A: Inception-V3","t":853,"w":445},{"panel":"p4","s":"A: Inception-V3","t":864,"w":437},{"panel":"p4","s":"A: Inception-V3","t":875,"w":429},{"panel":"p4","s":"A: Inception-V3","t":886,"w":430},{"panel":"p4","s":"A: Inception-V3","t":897,"w":425},{"panel":"p4","s":"A: Inception-V3","t":908,"w":421},{"panel":"p4","s":"A: Inception-V3","t":918,"w":410},{"panel":"p4","s":"A: Inception-V3","t":929,"w":399},{"panel":"p4","s":"A: Inception-V3","t":940,"w":405},{"panel":"p4","s":"A: Inception-V3","t":951,"w":414},{"panel":"p4","s":"A: Inception-V3","t":962,"w":414},{"panel":"p4","s":"A: Inception-V3","t":973,"w":420},{"panel":"p4","s":"A: Inception-V3","t":984,"w":425},{"panel":"p4","s":"A: Inception-V3","t":995,"w":429},{"panel":"p4","s":"A: Inception-V3","t":1006,"w":435},{"panel":"p4","s":"A: Inception-V3","t":1017,"w":437},{"panel":"p4","s":"A: Inception-V3","t":1028,"w":425},{"panel":"p4","s":"A: Inception-V3","t":1039,"w":429},{"panel":"p4","s":"A: Inception-V3","t":1047,"w":420},{"panel":"p4","s":"A: Inception-V3","t":1055,"w":414},{"panel":"p4","s":"A: Inception-V3","t":1065,"w":425},{"panel":"p4","s":"A: Inception-V3","t":1076,"w":400},
      {"panel":"p4","s":"B: VGG-16","t":950,"w":0},{"panel":"p4","s":"B: VGG-16","t":1300,"w":0},{"panel":"p4","s":"B: VGG-16","t":1650,"w":0}
    ]
  },
  "columns": 2,
  "spacing": {"row": 67, "column": 63},
  "bounds": "flush",
  "resolve": {"scale": {"color": "independent", "strokeDash": "independent"}},
  "concat": [
    {
      "width": 268, "height": 133,
      "title": {"text": "Staggering w.r.t A = 0%", "orient": "bottom"},
      "layer": [
        {
          "data": {"name": "series"},
          "transform": [{"filter": "datum.panel == 'p1'"}],
          "mark": {"type": "line", "strokeWidth": 2.6},
          "encoding": {
            "x": {"field": "t", "type": "quantitative", "scale": {"domain": [-28, 1200], "nice": false, "zero": false}, "axis": {"title": "Elapsed Time", "values": [0, 250, 500, 750, 1000], "format": "d"}},
            "y": {"field": "w", "type": "quantitative", "scale": {"domain": [228, 628], "nice": false, "zero": false}, "axis": {"title": "Wait Time (ms)", "values": [300, 400, 500, 600], "format": "d"}},
            "color": {"field": "s", "type": "nominal", "scale": {"domain": ["A: Inception-V3", "B: VGG-16"], "range": ["#FFA556", "#62A0CA"]}, "legend": {"title": null, "orient": "none", "legendX": 132, "legendY": 46}},
            "strokeDash": {"field": "s", "type": "nominal", "scale": {"domain": ["A: Inception-V3", "B: VGG-16"], "range": [[9, 4], [1, 0]]}, "legend": {"title": null, "orient": "none", "legendX": 132, "legendY": 46}}
          }
        }
      ]
    },
    {
      "width": 267, "height": 133,
      "title": {"text": "Staggering w.r.t A = 20%", "orient": "bottom"},
      "layer": [
        {
          "data": {"name": "series"},
          "transform": [{"filter": "datum.panel == 'p2'"}],
          "mark": {"type": "line", "strokeWidth": 2.6},
          "encoding": {
            "x": {"field": "t", "type": "quantitative", "scale": {"domain": [-27, 1176], "nice": false, "zero": false}, "axis": {"title": "Elapsed Time", "values": [0, 250, 500, 750, 1000], "format": "d"}},
            "y": {"field": "w", "type": "quantitative", "scale": {"domain": [-25, 594], "nice": false, "zero": false}, "axis": {"title": "Wait Time (ms)", "values": [0, 200, 400], "format": "d"}},
            "color": {"field": "s", "type": "nominal", "scale": {"domain": ["A: Inception-V3", "B: VGG-16"], "range": ["#FFA556", "#62A0CA"]}, "legend": {"title": null, "orient": "none", "legendX": 8, "legendY": 46}},
            "strokeDash": {"field": "s", "type": "nominal", "scale": {"domain": ["A: Inception-V3", "B: VGG-16"], "range": [[9, 4], [1, 0]]}, "legend": {"title": null, "orient": "none", "legendX": 8, "legendY": 46}}
          }
        },
        {
          "data": {"name": "markers"},
          "mark": {"type": "rule", "color": "#ff0000", "strokeWidth": 3},
          "encoding": {"x": {"field": "t", "type": "quantitative"}}
        }
      ]
    },
    {
      "width": 268, "height": 133,
      "title": {"text": "Staggering w.r.t A = 40%", "orient": "bottom"},
      "layer": [
        {
          "data": {"name": "series"},
          "transform": [{"filter": "datum.panel == 'p3'"}],
          "mark": {"type": "line", "strokeWidth": 2.6},
          "encoding": {
            "x": {"field": "t", "type": "quantitative", "scale": {"domain": [-28, 1200], "nice": false, "zero": false}, "axis": {"title": "Elapsed Time", "values": [0, 250, 500, 750, 1000], "format": "d"}},
            "y": {"field": "w", "type": "quantitative", "scale": {"domain": [-24, 582], "nice": false, "zero": false}, "axis": {"title": "Wait Time (ms)", "values": [0, 200, 400], "format": "d"}},
            "color": {"field": "s", "type": "nominal", "scale": {"domain": ["A: Inception-V3", "B: VGG-16"], "range": ["#FFA556", "#62A0CA"]}, "legend": {"title": null, "orient": "none", "legendX": 6, "legendY": 84}},
            "strokeDash": {"field": "s", "type": "nominal", "scale": {"domain": ["A: Inception-V3", "B: VGG-16"], "range": [[9, 4], [1, 0]]}, "legend": {"title": null, "orient": "none", "legendX": 6, "legendY": 84}}
          }
        }
      ]
    },
    {
      "width": 267, "height": 133,
      "title": {"text": "Staggering w.r.t A = 80%", "orient": "bottom"},
      "layer": [
        {
          "data": {"name": "series"},
          "transform": [{"filter": "datum.panel == 'p4'"}],
          "mark": {"type": "line", "strokeWidth": 2.6},
          "encoding": {
            "x": {"field": "t", "type": "quantitative", "scale": {"domain": [-62, 1685], "nice": false, "zero": false}, "axis": {"title": "Elapsed Time", "values": [0, 500, 1000, 1500], "format": "d"}},
            "y": {"field": "w", "type": "quantitative", "scale": {"domain": [-24, 582], "nice": false, "zero": false}, "axis": {"title": "Wait Time (ms)", "values": [0, 200, 400], "format": "d"}},
            "color": {"field": "s", "type": "nominal", "scale": {"domain": ["A: Inception-V3", "B: VGG-16"], "range": ["#FFA556", "#62A0CA"]}, "legend": {"title": null, "orient": "none", "legendX": 7, "legendY": 84}},
            "strokeDash": {"field": "s", "type": "nominal", "scale": {"domain": ["A: Inception-V3", "B: VGG-16"], "range": [[9, 4], [1, 0]]}, "legend": {"title": null, "orient": "none", "legendX": 7, "legendY": 84}}
          }
        }
      ]
    }
  ],
  "config": {
    "font": "Roboto",
    "view": {"stroke": "#333333", "strokeWidth": 1.2},
    "axis": {
      "labelFont": "Roboto", "labelFontSize": 13.5, "labelColor": "#262626",
      "titleFont": "Roboto", "titleFontSize": 14.5, "titleFontWeight": "normal", "titleColor": "#262626",
      "domain": false, "ticks": true, "tickColor": "#333333", "tickSize": 5, "tickWidth": 1,
      "grid": true, "gridColor": "#cfcfcf", "gridDash": [1.5, 2.5], "gridWidth": 1
    },
    "axisX": {"labelPadding": 2, "titlePadding": 3},
    "axisY": {"labelPadding": 4, "titlePadding": 6},
    "title": {"font": "Roboto", "fontSize": 15, "fontWeight": "normal", "color": "#262626", "offset": 9},
    "legend": {
      "fillColor": "rgba(255,255,255,0.8)", "strokeColor": "#cccccc", "cornerRadius": 3, "padding": 5,
      "labelFont": "Roboto", "labelFontSize": 13, "labelColor": "#262626",
      "symbolType": "M-1.4,0H1.4", "symbolSize": 324, "symbolStrokeWidth": 2.6, "labelOffset": 12, "rowPadding": 0
    }
  }
}
